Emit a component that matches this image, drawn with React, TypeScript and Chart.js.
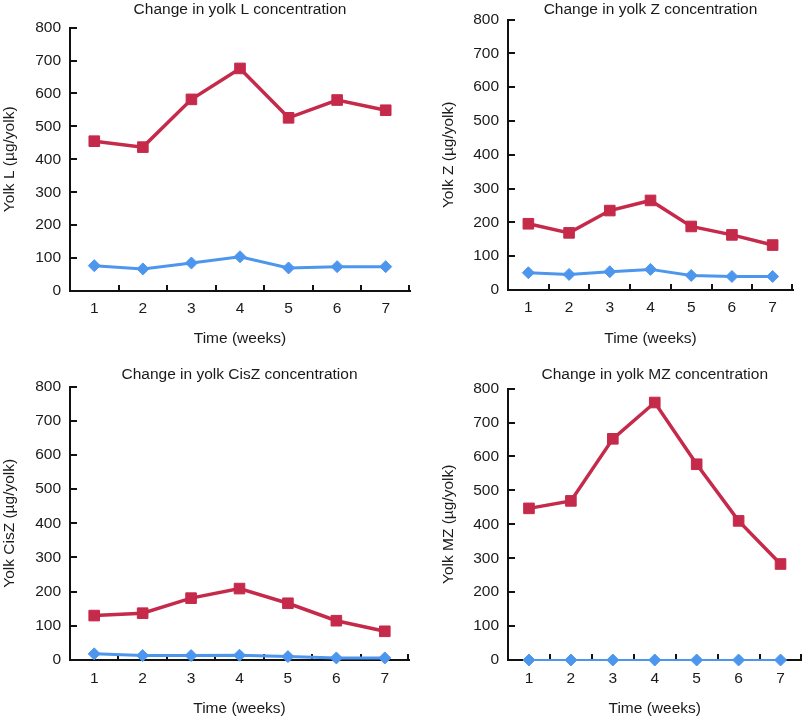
import React, { useEffect, useRef } from "react";
import { Chart, registerables } from "chart.js";

Chart.register(...registerables);

const weeks = ["1", "2", "3", "4", "5", "6", "7"];
const yTicks = [0, 100, 200, 300, 400, 500, 600, 700, 800];

const lRed = [455, 437, 582, 676, 526, 580, 549];
const lBlue = [77, 67, 85, 104, 70, 74, 74];
const zRed = [196, 169, 235, 265, 188, 163, 133];
const zBlue = [51, 46, 54, 61, 43, 40, 40];
const cisRed = [130, 137, 181, 209, 166, 115, 84];
const cisBlue = [18, 13, 13, 14, 10, 6, 6];
const mzRed = [447, 469, 652, 759, 577, 410, 283];
const mzBlue = [0, 0, 0, 0, 0, 0, 0];

const RED = "#c52a4b";
const BLUE = "#4d96ee";
const TEXT = "#1a1a1a";
const AXIS = "#111111";
const FONT = "'Liberation Sans', Arial, Helvetica, sans-serif";
const FS = 15.5;

type Panel = {
  title: string;
  yTitle: string;
  red: number[];
  blue: number[];
  left: number;
  top: number;
  width: number;
  height: number;
  padLeft: number;
  padRight: number;
  titleTop: number;
  titleBottom: number;
  yWidth: number;
  xHeight: number;
  xTickPad: number;
  xTitlePad: number;
  blueWidth: number;
};

const panels: Panel[] = [
  {
    title: "Change in yolk L concentration",
    yTitle: "Yolk L (\u00b5g/yolk)",
    red: lRed,
    blue: lBlue,
    left: 0, top: 0, width: 420, height: 359,
    padLeft: 0, padRight: 10,
    titleTop: 0, titleBottom: 9,
    yWidth: 70, xHeight: 68, xTickPad: 8, xTitlePad: 11,
    blueWidth: 3,
  },
  {
    title: "Change in yolk Z concentration",
    yTitle: "Yolk Z (\u00b5g/yolk)",
    red: zRed,
    blue: zBlue,
    left: 405, top: 0, width: 405, height: 359,
    padLeft: 34, padRight: 17,
    titleTop: 0, titleBottom: 1,
    yWidth: 69, xHeight: 69, xTickPad: 8, xTitlePad: 11,
    blueWidth: 3,
  },
  {
    title: "Change in yolk CisZ concentration",
    yTitle: "Yolk CisZ (\u00b5g/yolk)",
    red: cisRed,
    blue: cisBlue,
    left: 0, top: 359, width: 420, height: 359,
    padLeft: 0, padRight: 11,
    titleTop: 6, titleBottom: 3,
    yWidth: 70, xHeight: 58, xTickPad: 9, xTitlePad: 0,
    blueWidth: 3,
  },
  {
    title: "Change in yolk MZ concentration",
    yTitle: "Yolk MZ (\u00b5g/yolk)",
    red: mzRed,
    blue: mzBlue,
    left: 405, top: 359, width: 405, height: 359,
    padLeft: 34, padRight: 2,
    titleTop: 6, titleBottom: 5,
    yWidth: 69, xHeight: 58, xTickPad: 9, xTitlePad: 0,
    blueWidth: 2,
  },
];

const innerTicks = {
  id: "innerTicks",
  beforeDatasetsDraw(chart: any) {
    const ctx = chart.ctx;
    const xs = chart.scales.x;
    const ys = chart.scales.y;
    const area = chart.chartArea;
    ctx.save();
    ctx.strokeStyle = AXIS;
    ctx.lineWidth = 2;
    ctx.beginPath();
    ys.ticks.forEach((t: any) => {
      if (t.value === 0) return;
      const py = Math.round(ys.getPixelForValue(t.value));
      ctx.moveTo(area.left, py);
      ctx.lineTo(area.left + 7, py);
    });
    const n = weeks.length;
    for (let i = 0; i < n - 1; i++) {
      const px = Math.round((xs.getPixelForValue(i) + xs.getPixelForValue(i + 1)) / 2);
      ctx.moveTo(px, area.bottom);
      ctx.lineTo(px, area.bottom - 6);
    }
    const endX = Math.round(xs.right);
    ctx.moveTo(endX - 1, area.bottom);
    ctx.lineTo(endX - 1, area.bottom - 6);
    ctx.stroke();
    ctx.restore();
  },
};

function PanelChart({ p }: { p: Panel }) {
  const ref = useRef<HTMLCanvasElement | null>(null);
  useEffect(() => {
    if (!ref.current) return;
    const chart = new Chart(ref.current, {
      type: "line",
      data: {
        labels: weeks,
        datasets: [
          {
            data: p.red,
            borderColor: RED,
            backgroundColor: RED,
            borderWidth: 3.5,
            pointStyle: "rect",
            pointRadius: 7.5,
            pointBorderWidth: 1,
            pointBorderColor: RED,
            pointBackgroundColor: RED,
            tension: 0,
            clip: false,
          },
          {
            data: p.blue,
            borderColor: BLUE,
            backgroundColor: BLUE,
            borderWidth: p.blueWidth,
            pointStyle: "rectRot",
            pointRadius: 6,
            pointBorderWidth: 1,
            pointBorderColor: BLUE,
            pointBackgroundColor: BLUE,
            tension: 0,
            clip: false,
          },
        ],
      },
      options: {
        animation: false,
        responsive: false,
        devicePixelRatio: 1,
        layout: {
          padding: { left: p.padLeft, right: p.padRight, top: 0, bottom: 0 },
        },
        plugins: {
          legend: { display: false },
          tooltip: { enabled: false },
          title: {
            display: true,
            text: p.title,
            fullSize: false,
            color: TEXT,
            font: { family: FONT, size: FS, weight: "normal", lineHeight: 1.2 },
            padding: { top: p.titleTop, bottom: p.titleBottom },
          },
        },
        scales: {
          x: {
            type: "category",
            offset: true,
            grid: { display: false, drawTicks: false, offset: true },
            border: { display: true, color: AXIS, width: 2 },
            ticks: {
              color: TEXT,
              font: { family: FONT, size: FS, lineHeight: 1.2 },
              padding: p.xTickPad,
              maxRotation: 0,
              autoSkip: false,
            },
            title: {
              display: true,
              text: "Time (weeks)",
              color: TEXT,
              font: { family: FONT, size: FS, lineHeight: 1.2 },
              padding: { top: 0, bottom: p.xTitlePad },
            },
            afterFit: (s: any) => {
              s.height = p.xHeight;
            },
          },
          y: {
            type: "linear",
            min: 0,
            max: 800,
            grid: { display: false, drawTicks: false },
            border: { display: true, color: AXIS, width: 2 },
            afterBuildTicks: (s: any) => {
              s.ticks = yTicks.map((v) => ({ value: v }));
            },
            ticks: {
              color: TEXT,
              font: { family: FONT, size: FS, lineHeight: 1.2 },
              padding: 9,
            },
            title: {
              display: true,
              text: p.yTitle,
              color: TEXT,
              font: { family: FONT, size: FS, lineHeight: 1.2 },
              padding: { top: 0, bottom: 0 },
            },
            afterFit: (s: any) => {
              s.width = p.yWidth;
            },
          },
        },
      },
      plugins: [innerTicks],
    } as any);
    return () => chart.destroy();
  }, [p]);
  return (
    <canvas
      ref={ref}
      width={p.width}
      height={p.height}
      style={{
        position: "absolute",
        left: p.left,
        top: p.top,
        width: p.width,
        height: p.height,
      }}
    />
  );
}

export default function App() {
  return (
    <div
      style={{
        position: "absolute",
        left: 0,
        top: 0,
        width: 810,
        height: 718,
        background: "#ffffff",
        overflow: "hidden",
      }}
    >
      {panels.map((p, i) => (
        <PanelChart key={i} p={p} />
      ))}
    </div>
  );
}
